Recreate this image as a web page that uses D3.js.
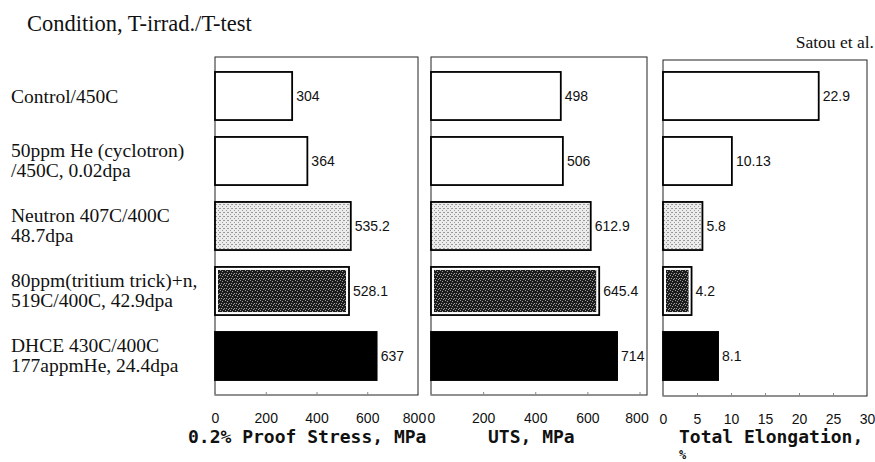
<!DOCTYPE html>
<html>
<head>
<meta charset="utf-8">
<script src="https://cdn.jsdelivr.net/npm/d3@7"></script>
<style>
  html, body { margin: 0; padding: 0; background: #fff; }
  svg { display: block; }
</style>
</head>
<body>
<svg id="chart" width="875" height="462"></svg>
<script>
// Conditions (irradiation temperature / test temperature), one label line per entry
const conditions = [
  ["Control/450C"],
  ["50ppm He (cyclotron)", "/450C, 0.02dpa"],
  ["Neutron 407C/400C", "48.7dpa"],
  ["80ppm(tritium trick)+n,", "519C/400C, 42.9dpa"],
  ["DHCE 430C/400C", "177appmHe, 24.4dpa"]
];
const conditionKeys = ["control", "cyclotron", "neutron", "tritium", "dhce"];

// Tensile properties per condition
const proofStress = [304, 364, 535.2, 528.1, 637];   // MPa
const uts = [498, 506, 612.9, 645.4, 714];            // MPa
const elongation = [22.9, 10.13, 5.8, 4.2, 8.1];      // %

// Axis tick values
const stressTicks = [0, 200, 400, 600, 800];
const utsTicks = [0, 200, 400, 600, 800];
const elongTicks = [0, 5, 10, 15, 20, 25, 30];

const svg = d3.select("#chart");
const serif = "'Liberation Serif', 'Times New Roman', serif";
const sans = "'Liberation Sans', Arial, sans-serif";

// Fill textures for the irradiated conditions
const defs = svg.append("defs");
const light = defs.append("pattern").attr("id", "stippleLight")
  .attr("patternUnits", "userSpaceOnUse").attr("width", 4).attr("height", 4);
light.append("rect").attr("width", 4).attr("height", 4).attr("fill", "#ececec");
[[0, 0], [2, 2], [3, 0]].forEach(([x, y]) =>
  light.append("rect").attr("x", x).attr("y", y).attr("width", 1).attr("height", 1).attr("fill", "#9a9a9a"));

const dark = defs.append("pattern").attr("id", "stippleDark")
  .attr("patternUnits", "userSpaceOnUse").attr("width", 5).attr("height", 5);
dark.append("rect").attr("width", 5).attr("height", 5).attr("fill", "#1c1c1c");
[[0, 0], [2, 1], [4, 3], [1, 3], [3, 4]].forEach(([x, y]) =>
  dark.append("rect").attr("x", x).attr("y", y).attr("width", 1).attr("height", 1).attr("fill", "#9a9a9a"));

const fillFor = d3.scaleOrdinal()
  .domain(conditionKeys)
  .range(["#ffffff", "#ffffff", "url(#stippleLight)", "url(#stippleDark)", "#000000"]);

// Shared row layout
const y = d3.scaleBand()
  .domain(conditionKeys)
  .range([63.5, 388.5])
  .paddingInner(0.26)
  .paddingOuter(0.13);

// Title and source note
svg.append("text")
  .attr("x", 27).attr("y", 31)
  .attr("font-family", serif)
  .attr("font-size", 22.5)
  .attr("fill", "#111")
  .text("Condition, T-irrad./T-test");

svg.append("text")
  .attr("x", 874).attr("y", 48)
  .attr("text-anchor", "end")
  .attr("font-family", serif)
  .attr("font-size", 17.5)
  .attr("fill", "#111")
  .text("Satou et al.");

// Row labels
const rowLabels = svg.append("g")
  .attr("font-family", serif)
  .attr("font-size", 19.5)
  .attr("fill", "#111");
conditions.forEach((lines, i) => {
  const cy = y(conditionKeys[i]) + y.bandwidth() / 2;
  if (lines.length === 1) {
    rowLabels.append("text").attr("x", 11).attr("y", cy + 7).text(lines[0]);
  } else {
    lines.forEach((ln, j) => {
      rowLabels.append("text").attr("x", 11).attr("y", cy - 4 + j * 20).text(ln);
    });
  }
});

// Panels
const panels = [
  { values: proofStress, domain: [0, 800], range: [215, 418], frame: [215, 57, 418, 395],
    ticks: stressTicks, lastTickShift: -4, title: ["0.2% Proof Stress, MPa"], titleX: 188 },
  { values: uts, domain: [0, 800], range: [431, 639.5], frame: [431, 57, 647, 395],
    ticks: utsTicks, lastTickShift: -3, title: ["UTS, MPa"], titleX: 488 },
  { values: elongation, domain: [0, 30], range: [663, 867], frame: [663, 60, 867, 396],
    ticks: elongTicks, lastTickShift: 0, title: ["Total Elongation,", "%"], titleX: 679 }
];

panels.forEach(p => {
  const x = d3.scaleLinear().domain(p.domain).range(p.range);
  const g = svg.append("g");
  const [fx0, fy0, fx1, fy1] = p.frame;

  // Frame
  g.append("rect")
    .attr("x", fx0).attr("y", fy0)
    .attr("width", fx1 - fx0).attr("height", fy1 - fy0)
    .attr("fill", "none").attr("stroke", "#222").attr("stroke-width", 1);

  // Bottom axis: short inward ticks, labels below the frame
  const axis = d3.axisBottom(x).tickValues(p.ticks).tickFormat(d => String(d))
    .tickSizeInner(-3).tickSizeOuter(0).tickPadding(18);
  const ag = g.append("g").attr("transform", `translate(0,${fy1})`).call(axis);
  ag.select(".domain").remove();
  ag.selectAll(".tick line").attr("stroke", "#888");
  ag.selectAll(".tick text")
    .attr("font-family", sans)
    .attr("font-size", 14)
    .attr("fill", "#111")
    .attr("dx", (d, i, n) => i === n.length - 1 ? p.lastTickShift : 0);

  // Bars
  const rows = g.selectAll("g.row")
    .data(p.values.map((v, i) => ({ key: conditionKeys[i], value: v })))
    .join("g").attr("class", "row");

  rows.append("rect")
    .attr("x", x(0))
    .attr("y", d => y(d.key))
    .attr("width", d => x(d.value) - x(0))
    .attr("height", y.bandwidth())
    .attr("fill", d => d.key === "tritium" ? "#ffffff" : fillFor(d.key))
    .attr("stroke", "#000")
    .attr("stroke-width", 1.8);

  // Double-bordered bar: white gap inside the outline, then the dark texture
  rows.filter(d => d.key === "tritium").append("rect")
    .attr("x", x(0) + 3)
    .attr("y", d => y(d.key) + 3)
    .attr("width", d => x(d.value) - x(0) - 6)
    .attr("height", y.bandwidth() - 6)
    .attr("fill", d => fillFor(d.key));

  // Value labels
  rows.append("text")
    .attr("x", d => x(d.value) + 4)
    .attr("y", d => y(d.key) + y.bandwidth() / 2 + 5)
    .attr("font-family", sans)
    .attr("font-size", 14)
    .attr("fill", "#111")
    .text(d => String(d.value));

  // Axis title
  p.title.forEach((ln, j) => {
    svg.append("text")
      .attr("x", p.titleX).attr("y", j === 0 ? 443 : 459)
      .attr("font-family", "'DejaVu Sans Mono', monospace")
      .attr("font-weight", "bold")
      .attr("font-size", j === 0 ? 18 : 12)
      .attr("fill", "#111")
      .text(ln);
  });
});
</script>
</body>
</html>
